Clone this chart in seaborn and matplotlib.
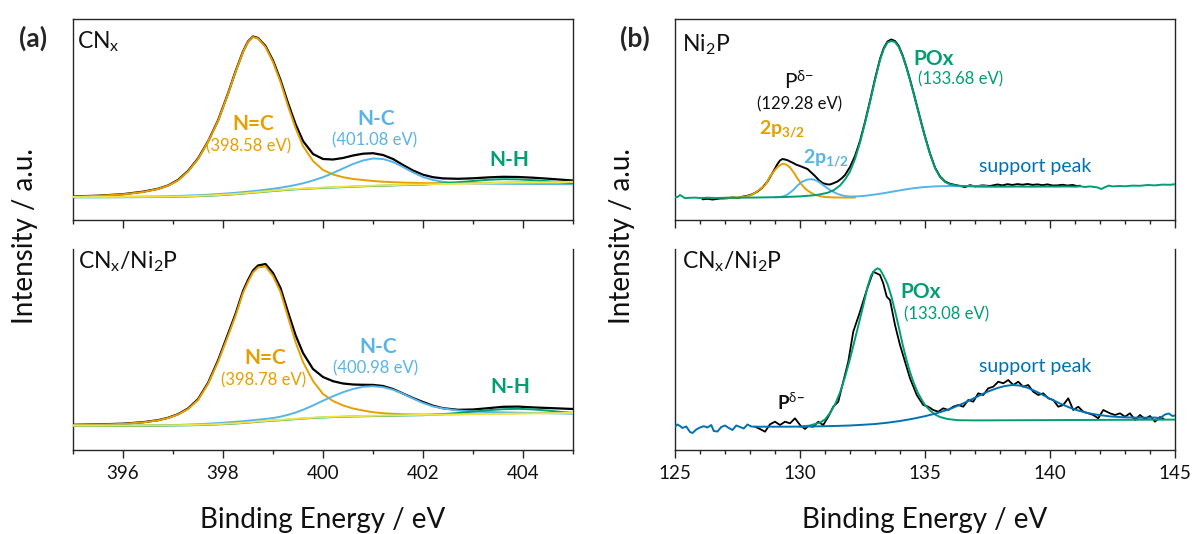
import numpy as np
import matplotlib
matplotlib.use("Agg")
import matplotlib.pyplot as plt
import seaborn as sns
from matplotlib.ticker import MultipleLocator, NullLocator

# ---------------- DATA ----------------
# Panel (a): N 1s, common energy grid
a_x = [395.0, 395.5, 396.0, 396.4, 396.7, 396.9, 397.1, 397.3, 397.5, 397.7,
       397.9, 398.1, 398.25, 398.4, 398.5, 398.6, 398.7, 398.85, 399.0, 399.15,
       399.3, 399.45, 399.6, 399.8, 400.0, 400.2, 400.4, 400.6, 400.8, 401.0,
       401.2, 401.4, 401.6, 401.8, 402.0, 402.2, 402.4, 402.7, 403.0, 403.3,
       403.6, 403.9, 404.2, 404.5, 404.8, 405.0]

# (a) top: CNx
a1_data = [23.5, 24.3, 25.8, 28.3, 31.2, 34.5, 40.0, 49.0, 61.5, 78.5,
           99.5, 126.5, 148.5, 168.5, 178.5, 183.5, 182.0, 174.0, 159.5, 140.0,
           117.0, 96.0, 79.0, 66.0, 61.0, 60.5, 62.0, 64.5, 66.3, 66.8,
           65.0, 61.0, 55.0, 49.5, 45.3, 42.8, 41.6, 41.2, 41.7, 42.6,
           43.2, 43.0, 42.3, 41.3, 40.2, 39.5]
a1_ndc = [23.3, 24.2, 25.6, 28.0, 31.0, 34.3, 39.5, 48.5, 61.0, 78.0,
          99.0, 126.0, 148.0, 168.0, 178.0, 183.0, 181.5, 173.0, 158.0, 138.0,
          114.0, 92.0, 74.0, 59.0, 50.0, 45.5, 42.8, 41.0, 40.0, 39.0,
          38.3, 37.8, 37.4, 37.1, 36.9, 36.8, 36.8, 36.8, 36.9, 37.1,
          37.3, 37.5, 37.7, 37.9, 38.1, 38.2]
a1_nc = [23.0, 23.0, 23.2, 23.4, 23.6, 23.8, 24.1, 24.4, 24.8, 25.3,
         25.9, 26.6, 27.2, 27.9, 28.4, 28.9, 29.4, 30.3, 31.2, 32.3,
         33.6, 35.0, 36.7, 39.5, 42.8, 47.0, 51.5, 56.0, 59.5, 61.5,
         61.0, 58.0, 53.0, 47.5, 43.0, 40.0, 38.2, 37.0, 36.5, 36.3,
         36.2, 36.1, 36.0, 35.9, 35.8, 35.7]
a1_nh = [22.7, 22.7, 22.8, 22.9, 23.0, 23.1, 23.3, 23.5, 23.8, 24.2,
         24.7, 25.3, 25.8, 26.4, 26.8, 27.3, 27.7, 28.4, 29.0, 29.6,
         30.2, 30.7, 31.1, 31.6, 32.1, 32.5, 32.9, 33.3, 33.7, 34.0,
         34.3, 34.6, 34.9, 35.1, 35.3, 36.0, 36.6, 37.8, 39.0, 40.2,
         40.8, 40.6, 39.8, 38.8, 37.6, 36.9]
a1_bg = [23.0, 23.0, 23.1, 23.2, 23.3, 23.4, 23.6, 23.8, 24.1, 24.5,
         25.0, 25.6, 26.1, 26.7, 27.1, 27.6, 28.0, 28.7, 29.3, 29.9,
         30.5, 31.0, 31.4, 31.9, 32.4, 32.8, 33.2, 33.6, 34.0, 34.3,
         34.6, 34.9, 35.2, 35.4, 35.6, 35.8, 36.0, 36.3, 36.6, 36.9,
         37.2, 37.4, 37.6, 37.8, 38.0, 38.1]

# (a) bottom: CNx/Ni2P
a2_data = [25.2, 25.6, 26.3, 27.8, 29.8, 32.2, 35.8, 41.5, 50.8, 67.0,
           89.5, 116.0, 136.0, 159.0, 170.0, 179.5, 184.5, 186.0, 177.0, 162.0,
           138.0, 115.0, 97.0, 81.0, 73.0, 68.8, 66.5, 65.5, 65.2, 65.1,
           64.0, 61.0, 56.5, 52.0, 48.0, 44.3, 41.8, 40.2, 40.5, 41.8,
           43.2, 43.4, 42.6, 42.0, 41.4, 41.0]
a2_ndc = [25.0, 25.4, 26.1, 27.6, 29.6, 32.0, 35.5, 41.0, 50.0, 66.0,
          88.0, 114.0, 134.0, 157.0, 168.0, 177.5, 182.5, 183.5, 174.0, 158.0,
          133.0, 108.0, 88.0, 69.0, 56.0, 49.0, 44.6, 41.5, 39.5, 37.8,
          36.8, 36.2, 35.8, 35.6, 35.5, 35.5, 35.6, 35.8, 36.0, 36.3,
          36.6, 36.8, 37.0, 37.2, 37.4, 37.5]
a2_nc = [24.3, 24.3, 24.4, 24.5, 24.7, 24.9, 25.1, 25.4, 25.8, 26.3,
         26.9, 27.6, 28.2, 28.8, 29.3, 29.8, 30.3, 31.1, 32.0, 33.3,
         35.2, 37.4, 40.2, 44.5, 49.3, 53.8, 57.8, 61.0, 63.2, 63.8,
         62.8, 60.3, 56.3, 51.5, 47.0, 43.6, 41.5, 39.5, 38.5, 38.0,
         37.6, 37.3, 37.0, 36.8, 36.5, 36.3]
a2_nh = [24.0, 24.0, 24.1, 24.2, 24.3, 24.4, 24.5, 24.7, 24.9, 25.2,
         25.6, 26.1, 26.5, 27.0, 27.4, 27.8, 28.2, 28.8, 29.3, 29.8,
         30.3, 30.9, 31.4, 32.0, 32.5, 32.9, 33.2, 33.5, 33.7, 33.9,
         34.1, 34.3, 34.5, 34.7, 34.8, 35.3, 35.9, 37.0, 38.4, 39.8,
         40.8, 41.2, 40.6, 39.4, 37.8, 36.8]
a2_bg = [24.3, 24.3, 24.4, 24.5, 24.6, 24.7, 24.8, 25.0, 25.2, 25.5,
         25.9, 26.4, 26.8, 27.3, 27.7, 28.1, 28.5, 29.1, 29.6, 30.1,
         30.6, 31.2, 31.7, 32.3, 32.8, 33.2, 33.5, 33.8, 34.0, 34.2,
         34.4, 34.6, 34.8, 35.0, 35.1, 35.2, 35.4, 35.6, 35.8, 36.0,
         36.2, 36.4, 36.6, 36.8, 37.0, 37.1]

# (b) top: Ni2P, P 2p
b1_data_x = [126.1, 126.3, 126.5, 126.8, 127.07, 127.3, 127.5, 127.7, 127.9, 128.1,
             128.3, 128.5, 128.7, 128.85, 129.0, 129.1, 129.2, 129.3, 129.4, 129.5,
             129.6, 129.73, 129.85, 130.0, 130.15, 130.3, 130.45, 130.6, 130.75, 130.9,
             131.07, 131.2, 131.33, 131.5, 131.67, 131.8, 131.9, 132.0, 132.2, 132.4,
             132.6, 132.8, 133.0, 133.2, 133.35, 133.5, 133.65, 133.8, 133.95, 134.1,
             134.25, 134.4, 134.55, 134.7, 134.85, 135.0, 135.2, 135.4, 135.6, 135.8,
             136.0, 136.3, 136.6, 136.8, 137.0, 137.3, 137.6, 137.9, 138.1, 138.3,
             138.5, 138.7, 138.9, 139.1, 139.3, 139.5, 139.7, 139.9, 140.1, 140.3,
             140.5, 140.7, 140.9, 141.1, 141.2]
b1_data_y = [20.7, 21.2, 20.5, 21.5, 21.7, 22.5, 22.0, 23.3, 24.2, 25.8,
             28.5, 32.5, 38.5, 45.0, 51.5, 56.0, 59.5, 61.0, 60.5, 59.8,
             58.5, 57.0, 55.3, 54.0, 52.5, 51.0, 47.5, 44.0, 40.0, 37.0,
             35.7, 35.5, 36.7, 38.5, 41.7, 45.0, 49.0, 53.0, 64.0, 79.0,
             98.0, 119.0, 141.0, 161.0, 172.0, 178.5, 180.5, 179.0, 174.0, 165.0,
             153.5, 140.5, 126.5, 112.0, 97.5, 83.5, 66.5, 52.5, 43.5, 38.5,
             36.2, 34.5, 33.0, 34.8, 33.6, 34.6, 34.0, 35.5, 34.6, 35.8,
             35.0, 35.9, 35.2, 36.0, 35.1, 35.6, 34.8, 35.6, 34.5, 34.6,
             35.2, 34.4, 35.0, 33.8, 34.3]
b1_p32_x = [127.0, 127.5, 127.8, 128.0, 128.2, 128.4, 128.6, 128.8, 129.0, 129.15,
            129.3, 129.45, 129.6, 129.75, 129.9, 130.05, 130.2, 130.4, 130.6, 130.8,
            131.0, 131.3, 131.7, 132.2]
b1_p32_y = [22.2, 22.5, 23.3, 24.5, 27.0, 31.0, 34.5, 43.5, 50.0, 54.0,
            56.3, 55.5, 52.5, 47.5, 41.5, 36.0, 31.5, 27.8, 25.2, 23.8,
            23.0, 22.6, 22.4, 22.4]
b1_p12_x = [129.0, 129.3, 129.5, 129.73, 129.9, 130.1, 130.3, 130.47, 130.65, 130.8,
            131.0, 131.2, 131.4, 131.6, 131.8, 132.0, 132.3, 132.6, 133.0, 133.4,
            133.8, 134.2, 134.6, 135.0, 135.5, 136.0, 136.5, 137.0, 137.5]
b1_p12_y = [22.6, 23.3, 25.5, 30.0, 34.5, 38.5, 40.5, 40.8, 39.5, 37.2,
            33.5, 30.0, 27.2, 25.2, 24.0, 23.5, 23.6, 24.2, 25.5, 27.0,
            28.8, 30.5, 32.0, 33.0, 33.7, 34.0, 34.0, 33.9, 33.7]
b1_pox_x = [125.0, 125.1, 125.2, 125.3, 125.4, 125.6, 125.8, 126.0, 126.3, 126.6,
            127.0, 127.5, 128.0, 128.5, 129.0, 129.5, 130.0, 130.5, 130.8, 131.1,
            131.35, 131.6, 131.8, 132.0, 132.2, 132.4, 132.6, 132.8, 133.0, 133.2,
            133.35, 133.5, 133.65, 133.8, 133.95, 134.1, 134.25, 134.4, 134.55, 134.7,
            134.85, 135.0, 135.2, 135.4, 135.6, 135.8, 136.0, 136.3, 136.7, 137.2,
            137.7, 138.2, 138.7, 139.2, 139.7, 140.2, 140.7, 141.0, 141.2, 141.4,
            141.6, 141.9, 142.05, 142.2, 142.35, 142.5, 142.8, 143.0, 143.3, 143.6,
            143.9, 144.2, 144.5, 144.8, 145.0]
b1_pox_y = [22.5, 23.0, 25.0, 23.5, 21.8, 22.2, 22.4, 22.0, 22.3, 22.0,
            22.2, 22.3, 22.4, 22.6, 22.8, 23.1, 23.6, 24.6, 25.6, 27.2,
            29.8, 34.5, 40.5, 48.5, 61.0, 77.5, 97.0, 118.0, 140.0, 160.0,
            171.0, 177.5, 179.0, 178.0, 173.0, 164.5, 153.0, 140.0, 126.0, 111.5,
            97.0, 83.0, 66.0, 52.0, 43.0, 38.0, 35.7, 34.3, 33.8, 33.4,
            33.3, 33.3, 33.4, 33.3, 33.4, 33.4, 33.5, 33.3, 33.7, 33.0,
            33.6, 32.6, 31.0, 32.8, 34.4, 33.6, 34.0, 33.7, 34.4, 34.2,
            35.0, 34.6, 35.4, 35.2, 35.8]

# (b) bottom: CNx/Ni2P, P 2p
b2_data_x = [128.2, 128.4, 128.6, 128.8, 129.0, 129.2, 129.4, 129.6, 129.8, 130.0,
             130.2, 130.33, 130.53, 130.73, 130.93, 131.13, 131.33, 131.53, 131.73, 131.93,
             132.13, 132.4, 132.67, 132.93, 133.2, 133.33, 133.47, 133.6, 133.8, 134.0,
             134.2, 134.4, 134.67, 134.93, 135.13, 135.33, 135.53, 135.73, 135.93, 136.13,
             136.33, 136.53, 136.73, 136.93, 137.13, 137.33, 137.53, 137.73, 137.93, 138.13,
             138.33, 138.53, 138.73, 138.93, 139.13, 139.33, 139.53, 139.73, 139.93, 140.13,
             140.33, 140.53, 140.73, 140.93, 141.13, 141.33, 141.53, 141.73, 141.93, 142.13,
             142.4, 142.6, 142.8, 143.0, 143.2, 143.4, 143.6, 143.8, 144.0, 144.2,
             144.4, 144.55]
b2_data_y = [23.3, 21.0, 18.3, 25.7, 28.3, 25.0, 28.3, 26.7, 31.7, 25.0,
             21.0, 24.0, 23.3, 28.3, 25.0, 33.3, 43.3, 48.3, 68.3, 88.3,
             118.3, 138.3, 160.0, 178.3, 175.0, 166.7, 153.3, 150.0, 125.0, 105.0,
             88.3, 71.7, 55.0, 45.0, 43.3, 40.0, 38.3, 41.7, 40.0, 43.3,
             45.0, 43.3, 50.0, 48.3, 56.7, 55.0, 61.7, 63.3, 68.3, 66.7,
             70.0, 65.0, 68.3, 63.3, 65.0, 58.3, 55.0, 56.7, 51.7, 50.0,
             43.3, 45.0, 51.7, 40.0, 43.3, 38.3, 36.7, 35.0, 31.7, 40.0,
             36.7, 35.0, 36.7, 33.3, 36.7, 30.0, 35.0, 31.0, 34.0, 28.3,
             33.0, 31.0]
b2_pox_x = [130.0, 130.4, 130.8, 131.0, 131.2, 131.4, 131.6, 131.8, 132.0, 132.2,
            132.4, 132.55, 132.7, 132.85, 133.0, 133.1, 133.2, 133.35, 133.5, 133.65,
            133.8, 133.95, 134.1, 134.25, 134.4, 134.55, 134.7, 134.85, 135.0, 135.2,
            135.4, 135.6, 135.9, 136.3, 137.0, 138.0, 139.0, 140.0, 141.0, 142.0,
            143.0, 144.0, 145.0]
b2_pox_y = [23.3, 24.5, 27.5, 30.5, 37.0, 45.5, 57.5, 73.0, 91.0, 111.0,
            131.0, 146.5, 163.0, 175.0, 180.0, 181.7, 180.5, 174.0, 166.0, 154.0,
            139.0, 123.0, 106.0, 91.0, 78.0, 67.0, 58.0, 51.0, 45.0, 39.5,
            35.5, 33.0, 31.0, 29.8, 29.6, 29.7, 29.8, 29.9, 30.0, 30.1,
            30.2, 30.3, 30.4]
b2_sup_x = [125.0, 125.1, 125.2, 125.3, 125.45, 125.6, 125.7, 125.85, 126.0, 126.15,
            126.3, 126.45, 126.55, 126.7, 126.85, 127.0, 127.15, 127.3, 127.45, 127.6,
            127.75, 127.9, 128.05, 128.2, 128.6, 129.0, 129.5, 130.0, 130.5, 131.0,
            131.5, 132.0, 132.5, 133.0, 133.5, 134.0, 134.5, 135.0, 135.5, 136.0,
            136.5, 137.0, 137.5, 137.9, 138.2, 138.5, 138.8, 139.1, 139.4, 139.7,
            140.0, 140.4, 140.8, 141.1, 141.5, 141.9, 142.4, 142.9, 143.4, 143.9,
            144.2, 144.4, 144.6, 144.75, 144.9, 145.0]
b2_sup_y = [23.3, 25.5, 24.0, 22.0, 23.5, 18.0, 17.0, 20.5, 22.5, 23.8,
            22.5, 25.0, 19.0, 18.5, 23.0, 24.5, 22.0, 20.0, 24.5, 23.0,
            21.5, 25.5, 23.5, 23.3, 23.3, 23.3, 23.3, 23.4, 23.6, 23.8,
            24.1, 24.5, 25.2, 26.0, 27.3, 29.0, 31.2, 33.8, 37.0, 41.0,
            46.3, 52.3, 58.3, 62.0, 64.0, 65.0, 64.4, 62.3, 59.0, 55.3,
            51.3, 46.5, 42.3, 39.7, 37.0, 35.2, 33.6, 32.8, 32.4, 32.3,
            32.5, 31.8, 35.5, 36.5, 34.0, 34.5]

# ---------------- STYLE ----------------
sns.set_theme(style="white")
plt.rcParams['font.family'] = ['Lato', 'DejaVu Sans']
plt.rcParams['mathtext.fontset'] = 'custom'
plt.rcParams['mathtext.rm'] = 'Lato'
plt.rcParams['mathtext.it'] = 'Lato:italic'
plt.rcParams['mathtext.bf'] = 'Lato:bold'
plt.rcParams['mathtext.fallback'] = 'stixsans'

BLACK = '#000000'
ORANGE = '#E69F00'
SKY = '#56B4E9'
GREEN = '#009E73'
YELLOW = '#F0E442'
BLUE = '#0072B2'
SPINE = '#262626'

W, H = 1193, 534
fig = plt.figure(figsize=(W / 100, H / 100), dpi=100)


def make_ax(left, top, right, bottom):
    return fig.add_axes([left / W, 1 - bottom / H, (right - left) / W, (bottom - top) / H])


ax_a1 = make_ax(73, 19, 573, 220)
ax_a2 = make_ax(73, 249, 573, 450)
ax_b1 = make_ax(675, 19, 1175, 220)
ax_b2 = make_ax(675, 249, 1175, 450)


def line(ax, x, y, color, lw, z):
    sns.lineplot(x=np.asarray(x, float), y=np.asarray(y, float), ax=ax, color=color,
                 linewidth=lw, zorder=z, legend=False, sort=False, estimator=None)


LW_D = 1.6
LW_C = 1.4

# (a) top
line(ax_a1, a_x, a1_data, BLACK, LW_D, 2)
line(ax_a1, a_x, a1_ndc, ORANGE, LW_C, 3)
line(ax_a1, a_x, a1_nc, SKY, LW_C, 4)
line(ax_a1, a_x, a1_nh, GREEN, LW_C, 5)
line(ax_a1, a_x, a1_bg, YELLOW, LW_C, 6)
# (a) bottom
line(ax_a2, a_x, a2_data, BLACK, LW_D, 2)
line(ax_a2, a_x, a2_ndc, ORANGE, LW_C, 3)
line(ax_a2, a_x, a2_nc, SKY, LW_C, 4)
line(ax_a2, a_x, a2_nh, GREEN, LW_C, 5)
line(ax_a2, a_x, a2_bg, YELLOW, LW_C, 6)
# (b) top
line(ax_b1, b1_data_x, b1_data_y, BLACK, LW_D - 0.2, 2)
line(ax_b1, b1_p32_x, b1_p32_y, ORANGE, LW_C, 3)
line(ax_b1, b1_p12_x, b1_p12_y, SKY, LW_C, 4)
line(ax_b1, b1_pox_x, b1_pox_y, GREEN, LW_C, 5)
# (b) bottom
line(ax_b2, b2_data_x, b2_data_y, BLACK, LW_D - 0.3, 2)
line(ax_b2, b2_pox_x, b2_pox_y, GREEN, LW_C, 3)
line(ax_b2, b2_sup_x, b2_sup_y, BLUE, LW_C, 4)

# axes styling
for ax, (x0, x1, maj) in [(ax_a1, (395, 405, 2)), (ax_a2, (395, 405, 2)),
                          (ax_b1, (125, 145, 5)), (ax_b2, (125, 145, 5))]:
    ax.set_xlim(x0, x1)
    ax.set_ylim(0, 201)
    ax.set_xlabel('')
    ax.set_ylabel('')
    ax.xaxis.set_major_locator(MultipleLocator(maj))
    ax.xaxis.set_minor_locator(MultipleLocator(1))
    ax.yaxis.set_major_locator(NullLocator())
    ax.yaxis.set_minor_locator(NullLocator())
    for s in ax.spines.values():
        s.set_linewidth(1.0)
        s.set_color(SPINE)
    ax.tick_params(axis='x', which='major', direction='out', length=6, width=1.0,
                   color=SPINE, labelsize=13.5, pad=5, labelcolor='#111111',
                   bottom=True, top=False)
    ax.tick_params(axis='x', which='minor', direction='out', length=3.2, width=1.0,
                   color=SPINE, bottom=True, top=False)
    ax.set_facecolor('none')

for ax in (ax_a1, ax_b1):
    ax.tick_params(axis='x', which='both', labelbottom=False)
for ax in (ax_a2, ax_b2):
    ax.spines['top'].set_visible(False)

# ---------------- TEXT ----------------
# sample names
ax_a1.text(0.008, 0.852, r"CN$_\mathregular{x}$", transform=ax_a1.transAxes,
           fontsize=16.5, ha='left', va='baseline', color='#111111')
ax_a2.text(0.011, 0.904, r"CN$_\mathregular{x}$/Ni$_\mathregular{2}$P", transform=ax_a2.transAxes,
           fontsize=16.5, ha='left', va='baseline', color='#111111')
ax_b1.text(0.014, 0.838, r"Ni$_\mathregular{2}$P", transform=ax_b1.transAxes,
           fontsize=16.5, ha='left', va='baseline', color='#111111')
ax_b2.text(0.013, 0.904, r"CN$_\mathregular{x}$/Ni$_\mathregular{2}$P", transform=ax_b2.transAxes,
           fontsize=16.5, ha='left', va='baseline', color='#111111')

# (a) top annotations
ax_a1.text(398.6, 90, "N=C", color=ORANGE, fontsize=15, weight='bold', ha='center', va='baseline')
ax_a1.text(398.52, 69, "(398.58 eV)", color=ORANGE, fontsize=12, ha='center', va='baseline')
ax_a1.text(401.06, 95, "N-C", color=SKY, fontsize=15, weight='bold', ha='center', va='baseline')
ax_a1.text(401.04, 74.5, "(401.08 eV)", color=SKY, fontsize=12, ha='center', va='baseline')
ax_a1.text(403.72, 53.5, "N-H", color=GREEN, fontsize=15, weight='bold', ha='center', va='baseline')
# (a) bottom annotations
ax_a2.text(398.85, 86, "N=C", color=ORANGE, fontsize=15, weight='bold', ha='center', va='baseline')
ax_a2.text(398.82, 65, "(398.78 eV)", color=ORANGE, fontsize=12, ha='center', va='baseline')
ax_a2.text(401.1, 97, "N-C", color=SKY, fontsize=15, weight='bold', ha='center', va='baseline')
ax_a2.text(401.06, 76.5, "(400.98 eV)", color=SKY, fontsize=12, ha='center', va='baseline')
ax_a2.text(403.75, 57.3, "N-H", color=GREEN, fontsize=15, weight='bold', ha='center', va='baseline')

# (b) top annotations
ax_b1.text(129.95, 130, r"P$^{\mathrm{\delta}\mathregular{-}}$", color='#111111', fontsize=15,
           ha='center', va='baseline')
ax_b1.text(130.0, 111, "(129.28 eV)", color='#111111', fontsize=12, ha='center', va='baseline')
ax_b1.text(128.35, 85, r"2p$_{\mathbf{3/2}}$", color=ORANGE, fontsize=14, weight='bold',
           ha='left', va='baseline')
ax_b1.text(130.12, 56.7, r"2p$_{\mathbf{1/2}}$", color=SKY, fontsize=14, weight='bold',
           ha='left', va='baseline')
ax_b1.text(134.53, 155, "POx", color=GREEN, fontsize=15, weight='bold', ha='left', va='baseline')
ax_b1.text(136.43, 136, "(133.68 eV)", color=GREEN, fontsize=12, ha='center', va='baseline')
ax_b1.text(139.39, 48.3, "support peak", color=BLUE, fontsize=14, ha='center', va='baseline')

# (b) bottom annotations
ax_b2.text(129.07, 40, r"P$^{\mathrm{\delta}\mathregular{-}}$", color='#111111', fontsize=13.5,
           weight='bold', ha='left', va='baseline')
ax_b2.text(134.03, 151.7, "POx", color=GREEN, fontsize=15, weight='bold', ha='left', va='baseline')
ax_b2.text(135.87, 130.5, "(133.08 eV)", color=GREEN, fontsize=12, ha='center', va='baseline')
ax_b2.text(139.39, 78.3, "support peak", color=BLUE, fontsize=14, ha='center', va='baseline')

# panel letters and axis titles
fig.text(33 / W, 1 - 47 / H, "(a)", fontsize=19, weight='bold', ha='center', va='baseline')
fig.text(635 / W, 1 - 47 / H, "(b)", fontsize=19, weight='bold', ha='center', va='baseline')
for xc in (323, 925):
    fig.text(xc / W, 1 - 528 / H, "Binding Energy / eV", fontsize=20, ha='center',
             va='baseline', color='#111111')
for xl in (25, 622):
    fig.text(xl / W, 1 - 236 / H, "Intensity / a.u.", fontsize=20, rotation=90,
             ha='center', va='center', color='#111111')

fig.savefig("out.png", dpi=100, facecolor='white')
